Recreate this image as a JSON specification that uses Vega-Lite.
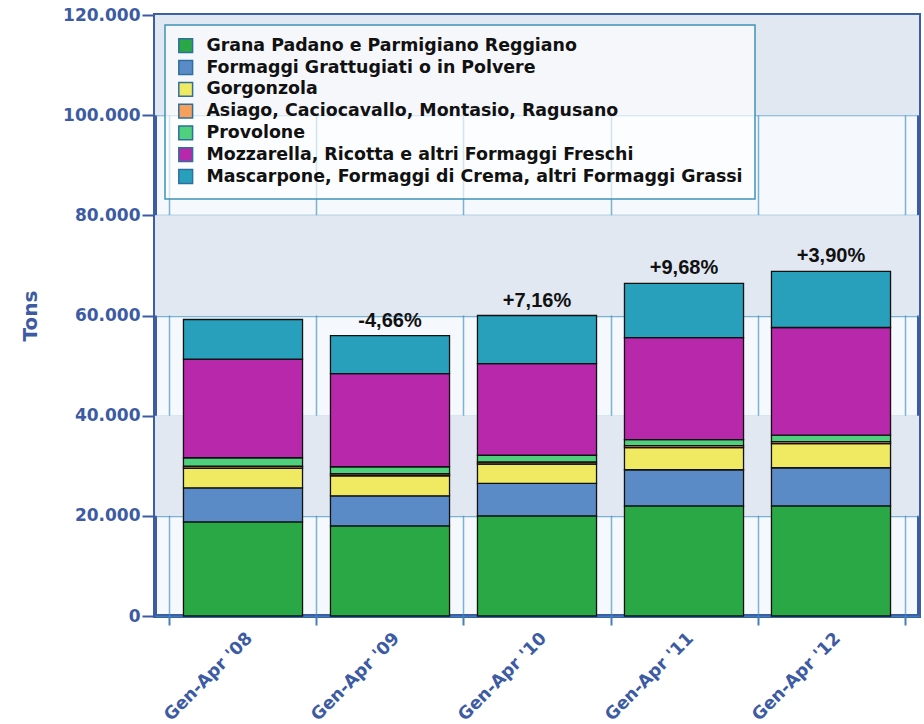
{
  "$schema": "https://vega.github.io/schema/vega-lite/v6.json",
  "autosize": "none",
  "padding": {"left": 155, "top": 15, "right": 5, "bottom": 108},
  "width": 764,
  "height": 601,
  "background": "#ffffff",
  "title": {"text": "Fonte: ISTAT", "font": "DejaVu Sans", "fontSize": 14, "fontWeight": "normal", "color": "#333333", "anchor": "middle", "baseline": "alphabetic", "offset": 8},
  "datasets": {
    "cheese": [
      {"year": "Gen-Apr '08", "type": "Grana Padano e Parmigiano Reggiano", "tons": 18800},
      {"year": "Gen-Apr '08", "type": "Formaggi Grattugiati o in Polvere", "tons": 6800},
      {"year": "Gen-Apr '08", "type": "Gorgonzola", "tons": 3900},
      {"year": "Gen-Apr '08", "type": "Asiago, Caciocavallo, Montasio, Ragusano", "tons": 400},
      {"year": "Gen-Apr '08", "type": "Provolone", "tons": 1700},
      {"year": "Gen-Apr '08", "type": "Mozzarella, Ricotta e altri Formaggi Freschi", "tons": 19700},
      {"year": "Gen-Apr '08", "type": "Mascarpone, Formaggi di Crema, altri Formaggi Grassi", "tons": 7900},
      {"year": "Gen-Apr '09", "type": "Grana Padano e Parmigiano Reggiano", "tons": 18000},
      {"year": "Gen-Apr '09", "type": "Formaggi Grattugiati o in Polvere", "tons": 6000},
      {"year": "Gen-Apr '09", "type": "Gorgonzola", "tons": 4000},
      {"year": "Gen-Apr '09", "type": "Asiago, Caciocavallo, Montasio, Ragusano", "tons": 400},
      {"year": "Gen-Apr '09", "type": "Provolone", "tons": 1400},
      {"year": "Gen-Apr '09", "type": "Mozzarella, Ricotta e altri Formaggi Freschi", "tons": 18600},
      {"year": "Gen-Apr '09", "type": "Mascarpone, Formaggi di Crema, altri Formaggi Grassi", "tons": 7600},
      {"year": "Gen-Apr '10", "type": "Grana Padano e Parmigiano Reggiano", "tons": 20000},
      {"year": "Gen-Apr '10", "type": "Formaggi Grattugiati o in Polvere", "tons": 6500},
      {"year": "Gen-Apr '10", "type": "Gorgonzola", "tons": 3850},
      {"year": "Gen-Apr '10", "type": "Asiago, Caciocavallo, Montasio, Ragusano", "tons": 400},
      {"year": "Gen-Apr '10", "type": "Provolone", "tons": 1350},
      {"year": "Gen-Apr '10", "type": "Mozzarella, Ricotta e altri Formaggi Freschi", "tons": 18300},
      {"year": "Gen-Apr '10", "type": "Mascarpone, Formaggi di Crema, altri Formaggi Grassi", "tons": 9600},
      {"year": "Gen-Apr '11", "type": "Grana Padano e Parmigiano Reggiano", "tons": 22000},
      {"year": "Gen-Apr '11", "type": "Formaggi Grattugiati o in Polvere", "tons": 7200},
      {"year": "Gen-Apr '11", "type": "Gorgonzola", "tons": 4400},
      {"year": "Gen-Apr '11", "type": "Asiago, Caciocavallo, Montasio, Ragusano", "tons": 400},
      {"year": "Gen-Apr '11", "type": "Provolone", "tons": 1200},
      {"year": "Gen-Apr '11", "type": "Mozzarella, Ricotta e altri Formaggi Freschi", "tons": 20400},
      {"year": "Gen-Apr '11", "type": "Mascarpone, Formaggi di Crema, altri Formaggi Grassi", "tons": 10800},
      {"year": "Gen-Apr '12", "type": "Grana Padano e Parmigiano Reggiano", "tons": 22000},
      {"year": "Gen-Apr '12", "type": "Formaggi Grattugiati o in Polvere", "tons": 7600},
      {"year": "Gen-Apr '12", "type": "Gorgonzola", "tons": 4800},
      {"year": "Gen-Apr '12", "type": "Asiago, Caciocavallo, Montasio, Ragusano", "tons": 400},
      {"year": "Gen-Apr '12", "type": "Provolone", "tons": 1300},
      {"year": "Gen-Apr '12", "type": "Mozzarella, Ricotta e altri Formaggi Freschi", "tons": 21500},
      {"year": "Gen-Apr '12", "type": "Mascarpone, Formaggi di Crema, altri Formaggi Grassi", "tons": 11200}
    ],
    "types": [
      {"type": "Grana Padano e Parmigiano Reggiano", "rank": 1},
      {"type": "Formaggi Grattugiati o in Polvere", "rank": 2},
      {"type": "Gorgonzola", "rank": 3},
      {"type": "Asiago, Caciocavallo, Montasio, Ragusano", "rank": 4},
      {"type": "Provolone", "rank": 5},
      {"type": "Mozzarella, Ricotta e altri Formaggi Freschi", "rank": 6},
      {"type": "Mascarpone, Formaggi di Crema, altri Formaggi Grassi", "rank": 7}
    ],
    "changes": [
      {"year": "Gen-Apr '09", "change": "-4,66%"},
      {"year": "Gen-Apr '10", "change": "+7,16%"},
      {"year": "Gen-Apr '11", "change": "+9,68%"},
      {"year": "Gen-Apr '12", "change": "+3,90%"}
    ],
    "stripes": [
      {"from": 20000, "to": 40000},
      {"from": 60000, "to": 80000},
      {"from": 100000, "to": 120000}
    ]
  },
  "layer": [
    {
      "data": {"name": "stripes"},
      "mark": {"type": "rect", "fill": "#e2e8f2"},
      "encoding": {
        "y": {"field": "from", "type": "quantitative", "scale": {"domain": [0, 120000]}, "title": "Tons",
              "axis": {"values": [0, 20000, 40000, 60000, 80000, 100000, 120000], "format": ",d"}},
        "y2": {"field": "to"}
      }
    },
    {
      "data": {"name": "cheese"},
      "transform": [
        {"lookup": "type", "from": {"data": {"name": "types"}, "key": "type", "fields": ["rank"]}}
      ],
      "mark": {"type": "bar", "stroke": "#111111", "strokeWidth": 1.3, "width": {"band": 0.81}},
      "encoding": {
        "x": {"field": "year", "type": "nominal", "title": null,
              "scale": {"paddingInner": 0, "paddingOuter": 0.0986},
              "axis": {"tickBand": "extent"}},
        "y": {"field": "tons", "type": "quantitative", "stack": "zero", "scale": {"domain": [0, 120000]}, "title": "Tons",
              "axis": {"values": [0, 20000, 40000, 60000, 80000, 100000, 120000], "format": ",d"}},
        "order": {"field": "rank", "type": "quantitative", "sort": "ascending"},
        "color": {
          "field": "type", "type": "nominal",
          "sort": ["Grana Padano e Parmigiano Reggiano", "Formaggi Grattugiati o in Polvere", "Gorgonzola", "Asiago, Caciocavallo, Montasio, Ragusano", "Provolone", "Mozzarella, Ricotta e altri Formaggi Freschi", "Mascarpone, Formaggi di Crema, altri Formaggi Grassi"],
          "scale": {
            "domain": ["Grana Padano e Parmigiano Reggiano", "Formaggi Grattugiati o in Polvere", "Gorgonzola", "Asiago, Caciocavallo, Montasio, Ragusano", "Provolone", "Mozzarella, Ricotta e altri Formaggi Freschi", "Mascarpone, Formaggi di Crema, altri Formaggi Grassi"],
            "range": ["#29a845", "#5b8bc6", "#f0e962", "#f5a05c", "#4fd07c", "#b828aa", "#28a0bc"]
          },
          "legend": {"title": null, "orient": "none", "legendX": 10, "legendY": 10}
        }
      }
    },
    {
      "data": {"name": "cheese"},
      "transform": [
        {"aggregate": [{"op": "sum", "field": "tons", "as": "total"}], "groupby": ["year"]},
        {"lookup": "year", "from": {"data": {"name": "changes"}, "key": "year", "fields": ["change"]}},
        {"filter": "datum.change != null"}
      ],
      "mark": {"type": "text", "font": "Liberation Sans", "fontSize": 20, "fontWeight": "bold", "color": "#111111", "baseline": "alphabetic", "dy": -9},
      "encoding": {
        "x": {"field": "year", "type": "nominal"},
        "y": {"field": "total", "type": "quantitative"},
        "text": {"field": "change"}
      }
    }
  ],
  "config": {
    "locale": {"number": {"decimal": ",", "thousands": ".", "grouping": [3], "currency": ["€", ""]}},
    "view": {"fill": "#f5f8fc", "stroke": "#3d5ca6", "strokeWidth": 4},
    "axis": {
      "domain": false,
      "grid": true,
      "gridColor": "#3b8ec0",
      "gridOpacity": 0.65,
      "gridWidth": 1.5,
      "zindex": 1,
      "labelFont": "DejaVu Sans",
      "labelFontWeight": "bold",
      "labelColor": "#3c5ba3",
      "labelFontSize": 17,
      "titleFont": "DejaVu Sans",
      "titleFontWeight": "bold",
      "titleColor": "#3c5ba3",
      "titleFontSize": 20,
      "tickColor": "#3c5ba3",
      "tickWidth": 2
    },
    "axisY": {"tickSize": 13, "labelPadding": 2, "titlePadding": 22},
    "axisX": {"labelAngle": -45, "tickSize": 9, "labelPadding": 4, "tickColor": "#4a7fb5", "labelFontSize": 17.5},
    "legend": {
      "fillColor": "rgba(255,255,255,0.65)",
      "strokeColor": "#3f93b8",
      "strokeWidth": 1.5,
      "padding": 12,
      "symbolType": "square",
      "symbolSize": 190,
      "symbolStrokeColor": "#2f6f9f",
      "symbolStrokeWidth": 1.5,
      "symbolOpacity": 1,
      "labelFont": "DejaVu Sans",
      "labelFontWeight": "bold",
      "labelFontSize": 17.4,
      "labelColor": "#111111",
      "labelLimit": 800,
      "labelOffset": 12,
      "rowPadding": 0.8
    }
  }
}
